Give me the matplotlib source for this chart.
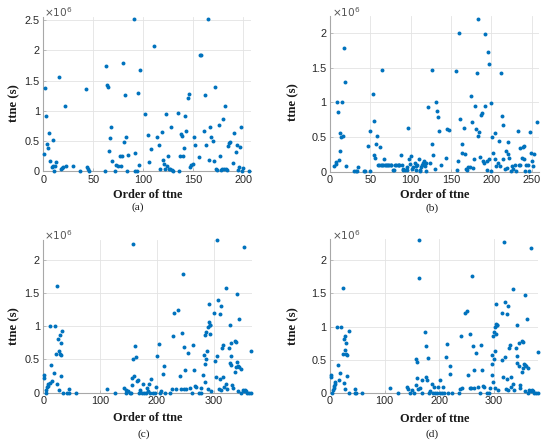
import matplotlib
matplotlib.use("Agg")
import matplotlib.pyplot as plt
from matplotlib.ticker import FuncFormatter

# ---- data (ttne values in units of 1e6 s) ----
a_pts = [(1,0.28),(2,1.38),(3,0.91),(4,0.455),(5,0.39),(6,0.64),(7,0.175),(9,0.07),(10,0.09),(10,0.51),
         (11,0.01),(12,0.09),(13,0.16),(16,1.56),(18,0.04),(19,0.06),(20,0.07),(22,1.08),(23,0.09),(30,0.08),
         (37,0.01),(43,1.36),(44,0.065),(45,0.04),(46,0.01),(62,0.01),(63,1.74),(64,1.42),(65,1.39),(66,0.33),
         (67,0.55),(68,0.73),(69,0.165),(72,0.01),(73,0.11),(75,0.09),(77,0.26),(78,0.09),(79,0.25),(80,1.79),
         (81,0.48),(82,1.26),(83,0.57),(84,0.01),(85,0.27),(91,2.52),(92,0.01),(92,0.3),(94,0.01),(95,1.3),
         (96,0.1),(97,1.68),(102,0.94),(105,0.6),(106,0.15),(108,0.37),(111,2.08),(114,0.56),(116,0.43),(117,0.03),
         (119,0.65),(120,0.18),(121,0.115),(122,0.04),(123,0.94),(124,0.08),(125,0.25),(126,0.03),(127,0.04),(128,0.73),
         (129,0.015),(130,0.005),(135,0.97),(136,0.01),(137,0.26),(138,0.62),(139,0.59),(140,0.26),(141,0.39),(142,0.92),
         (143,0.67),(145,1.21),(146,1.28),(147,0.07),(148,0.11),(150,0.125),(151,0.575),(152,0.43),(156,0.235),(157,1.92),
         (158,1.92),(161,0.66),(162,1.27),(163,0.44),(165,2.52),(166,0.185),(167,0.73),(168,0.565),(170,0.5),(171,0.17),
         (172,1.39),(173,0.04),(174,0.015),(176,0.77),(177,0.245),(178,0.015),(179,0.04),(180,0.86),(181,0.04),(182,1.08),
         (183,0.03),(184,0.015),(185,0.42),(186,0.465),(187,0.48),(190,0.135),(191,0.63),(193,0.32),(194,0.43),(195,0.015),
         (196,0.07),(197,0.4),(198,0.73),(199,0.01),(200,0.055),(206,0.005)]

b_pts = [(5,0.08),(7,0.11),(8,0.14),(9,1.0),(10,0.86),(11,0.16),(12,0.56),(13,0.29),(14,0.5),(15,1.0),
         (16,0.51),(17,1.79),(18,1.3),(20,0.085),(30,0.01),(32,0.01),(34,0.01),(35,0.07),(42,0.01),(43,0.01),
         (47,0.375),(49,0.01),(49,0.59),(53,1.12),(54,0.245),(55,0.73),(56,0.2),(57,0.4),(58,0.52),(60,0.1),
         (61,0.1),(62,0.355),(63,0.1),(64,1.47),(65,0.1),(66,0.1),(67,0.18),(68,0.1),(70,0.1),(71,0.095),
         (72,0.1),(73,0.1),(75,0.095),(76,0.1),(78,0.015),(79,0.015),(80,0.1),(82,0.1),(84,0.095),(85,0.1),
         (86,0.1),(88,0.235),(89,0.1),(90,0.035),(91,0.02),(93,0.02),(95,0.07),(96,0.02),(97,0.625),(98,0.18),
         (99,0.115),(100,0.23),(101,0.035),(103,0.06),(105,0.12),(106,0.077),(107,0.02),(108,0.09),(110,0.18),(111,0.01),
         (112,0.02),(113,0.06),(114,0.1),(115,0.13),(117,0.15),(118,0.085),(119,0.01),(119,0.12),(122,0.93),(124,0.12),
         (126,0.4),(127,1.46),(128,0.245),(130,0.035),(131,1.0),(133,0.875),(134,0.79),(135,0.58),(137,0.09),(144,0.2),
         (145,0.615),(147,0.6),(156,1.45),(157,0.02),(159,0.15),(160,2.0),(161,0.755),(163,0.27),(164,0.4),(166,0.635),
         (167,0.26),(168,0.035),(170,0.02),(171,0.058),(173,0.067),(175,1.09),(176,0.715),(177,0.053),(178,0.18),(180,0.94),
         (181,0.61),(182,1.43),(183,0.52),(184,2.21),(185,0.57),(186,0.207),(187,0.82),(188,0.84),(190,0.155),(191,0.12),
         (192,0.95),(192,1.98),(194,0.025),(194,0.145),(196,1.73),(197,1.56),(197,0.18),(199,0.01),(200,0.985),(201,0.495),
         (202,0.265),(204,0.56),(204,0.18),(206,0.085),(208,0.12),(209,0.44),(211,0.08),(212,1.43),(213,0.8),(215,0.67),
         (215,0.18),(217,0.03),(218,0.3),(219,0.05),(220,0.26),(221,0.43),(222,0.2),(224,0.01),(225,0.08),(227,0.03),
         (229,0.095),(230,0.01),(233,0.59),(234,0.087),(235,0.34),(236,0.1),(238,0.19),(239,0.36),(240,0.375),(241,0.18),
         (242,0.01),(243,0.1),(245,0.1),(246,0.01),(248,0.57),(249,0.27),(250,0.15),(251,0.08),(253,0.25),(257,0.71)]

c_pts = [(1,0.225),(2,0.265),(4,0.0),(5,0.04),(7,0.08),(8,0.105),(9,0.125),(11,0.15),(12,1.0),(13,0.41),
         (16,0.18),(18,0.29),(21,1.0),(23,0.58),(25,1.6),(25,0.13),(26,0.8),(27,0.04),(28,0.63),(29,0.86),
         (30,0.58),(31,0.74),(31,0.25),(32,0.56),(33,0.93),(34,0.0),(42,0.0),(45,0.05),(46,0.0),(58,0.0),
         (112,0.055),(126,0.0),(142,0.07),(145,0.04),(146,0.0),(149,0.03),(152,0.0),(154,0.0),(156,0.115),(157,0.22),
         (158,0.5),(158,2.23),(159,0.245),(161,0.7),(163,0.53),(165,0.175),(167,0.19),(169,0.0),(170,0.045),(174,0.0),
         (176,0.125),(178,0.0),(180,0.0),(183,0.07),(184,0.02),(186,0.135),(188,0.0),(190,0.21),(193,0.0),(197,0.0),
         (199,0.085),(201,0.55),(203,0.73),(206,0.0),(208,0.03),(211,0.28),(212,0.4),(214,0.0),(224,0.0),(226,0.055),
         (228,0.855),(231,1.2),(233,0.06),(238,1.24),(241,0.255),(243,0.05),(244,0.895),(246,1.78),(247,0.055),(248,0.69),
         (250,0.335),(252,0.055),(254,0.6),(258,0.075),(261,0.0),(263,0.71),(265,0.335),(267,0.1),(269,0.08),(274,0.0),
         (277,0.0),(278,0.07),(282,0.26),(283,0.56),(284,0.155),(285,0.43),(285,0.86),(287,0.905),(287,0.5),(288,0.62),
         (290,0.06),(290,0.985),(291,1.06),(292,1.34),(293,0.885),(293,1.02),(294,1.025),(295,0.025),(301,1.2),(302,0.48),
         (304,0.23),(306,2.29),(306,0.545),(308,1.39),(310,0.05),(311,0.2),(312,1.19),(313,1.31),(313,0.04),(315,0.67),
         (317,0.71),(317,0.24),(319,0.09),(321,1.57),(322,0.13),(323,0.05),(327,0.67),(328,0.45),(329,1.025),(330,0.55),
         (331,0.745),(331,0.42),(333,0.115),(334,0.065),(337,0.315),(337,0.78),(339,0.38),(339,0.765),(341,0.455),(341,1.48),
         (342,0.405),(343,0.02),(344,0.38),(345,1.11),(348,0.35),(349,0.0),(351,0.04),(353,0.02),(354,2.19),(355,0.04),
         (357,0.02),(359,0.0),(362,0.0),(365,0.62),(366,0.0)]

d_pts = [(1,0.235),(2,0.27),(4,0.0),(6,0.04),(7,0.08),(8,0.11),(9,0.14),(10,0.165),(12,1.0),(14,0.415),
         (17,0.19),(19,0.295),(21,1.0),(23,0.58),(24,1.59),(25,0.145),(26,0.81),(27,0.64),(28,0.86),(27,0.055),
         (29,0.58),(30,0.75),(31,0.26),(32,0.57),(34,0.93),(35,0.0),(45,0.0),(46,0.055),(47,0.0),(58,0.0),
         (111,0.065),(125,0.0),(142,0.085),(144,0.05),(147,0.0),(151,0.035),(155,0.0),(158,0.125),(158,0.51),(159,0.225),
         (160,0.46),(162,0.06),(163,1.74),(164,2.31),(166,0.075),(168,0.0),(169,0.2),(174,0.925),(176,0.7),(177,0.24),
         (178,0.195),(179,0.53),(182,0.0),(184,0.02),(187,0.13),(189,0.0),(191,0.09),(193,0.0),(196,0.0),(198,0.09),
         (201,0.0),(202,0.2),(205,0.0),(208,0.085),(210,0.0),(213,0.545),(214,0.735),(216,0.0),(220,0.28),(221,0.4),
         (223,0.0),(236,0.0),(239,0.055),(241,0.86),(243,0.08),(247,1.2),(251,1.24),(254,0.265),(256,0.065),(257,0.89),
         (259,0.075),(261,1.77),(262,0.7),(264,0.345),(265,0.07),(268,0.6),(272,0.095),(275,0.0),(277,0.72),(279,0.345),
         (281,0.11),(283,0.09),(288,0.0),(291,0.0),(294,0.08),(297,0.265),(297,0.57),(298,0.44),(299,0.16),(299,0.86),
         (300,0.51),(301,0.915),(302,0.63),(303,0.075),(303,0.99),(304,1.045),(305,1.34),(305,0.89),(306,1.02),(306,1.03),
         (308,0.04),(315,1.205),(316,0.49),(317,0.235),(319,2.28),(321,0.545),(322,1.375),(323,0.06),(324,0.21),(325,1.195),
         (326,1.305),(327,0.04),(328,0.675),(330,0.72),(332,0.245),(333,0.085),(335,1.57),(336,0.13),(338,0.04),(341,0.675),
         (343,0.455),(344,1.03),(344,0.55),(346,0.75),(346,0.4),(348,0.12),(349,0.07),(352,0.315),(352,0.785),(354,0.38),
         (355,0.77),(356,0.44),(357,1.48),(358,0.42),(358,0.02),(360,0.4),(361,1.11),(363,0.38),(364,0.0),(366,0.04),
         (368,0.02),(369,2.18),(371,0.04),(372,0.02),(375,0.0),(378,0.0),(381,0.62),(382,0.0)]

panel_labels = ["(a)", "(b)", "(c)", "(d)"]
x_label = "Order of ttne"
y_label = "ttne (s)"
a_xticks = [0, 50, 100, 150, 200]
b_xticks = [0, 50, 100, 150, 200, 250]
cd_xticks = [0, 100, 200, 300]
a_yticks = [0, 0.5, 1, 1.5, 2, 2.5]
bcd_yticks = [0, 0.5, 1, 1.5, 2]

# ---- styling ----
W, H = 550, 446
BLUE = "#0072BD"
fig = plt.figure(figsize=(W / 100, H / 100), dpi=100)
fig.patch.set_facecolor("white")


def add_ax(l, r, t, b):
    return fig.add_axes([l / W, 1 - b / H, (r - l) / W, (b - t) / H])


panels = [
    (a_pts, (43.3, 251.3, 17.2, 171.3), 208, 2.55, a_xticks, a_yticks),
    (b_pts, (330.0, 539.0, 15.8, 171.5), 259, 2.25, b_xticks, bcd_yticks),
    (c_pts, (43.3, 251.7, 239.8, 392.6), 367, 2.30, cd_xticks, bcd_yticks),
    (d_pts, (330.0, 538.2, 239.2, 392.8), 382, 2.32, cd_xticks, bcd_yticks),
]

tick_font = dict(family="Liberation Sans", size=7.8)
for pts, (l, r, t, b), xmax, ymax, xt, yt in panels:
    ax = add_ax(l, r, t, b)
    xs = [p[0] for p in pts]
    ys = [p[1] * 1e6 for p in pts]
    ax.scatter(xs, ys, s=8, color=BLUE, linewidths=0, clip_on=False, zorder=3)
    ax.set_xlim(0, xmax)
    ax.set_ylim(0, ymax * 1e6)
    ax.set_xticks(xt)
    ax.set_yticks([v * 1e6 for v in yt])
    ax.yaxis.set_major_formatter(FuncFormatter(lambda v, p: "%g" % (v / 1e6)))
    ax.grid(True, color="#e3e3e3", linewidth=0.6, zorder=0)
    ax.set_axisbelow(True)
    for s in ("top", "right"):
        ax.spines[s].set_visible(False)
    for s in ("left", "bottom"):
        ax.spines[s].set_color("#a8a8a8")
        ax.spines[s].set_linewidth(0.8)
    ax.tick_params(direction="in", length=2, width=0.5, color="#a8a8a8",
                   labelcolor="#262626", pad=2.5)
    for lab in ax.get_xticklabels() + ax.get_yticklabels():
        lab.set_fontfamily(tick_font["family"])
        lab.set_fontsize(tick_font["size"])

xlabel_font = dict(family="Liberation Serif", weight="bold", size=8.8, color="#1a1a1a")
ylabel_font = dict(family="Liberation Serif", weight="bold", size=9.2, color="#1a1a1a")
panel_font = dict(family="Liberation Serif", size=8.2, color="#1a1a1a")

# x labels
for cx, cy in [(147.7, 195.5), (434.7, 195.5), (147.7, 418.0), (434.7, 418.5)]:
    fig.text(cx / W, 1 - cy / H, x_label, ha="center", va="center", **xlabel_font)
# y labels
for cx, cy in [(14, 103), (293.3, 101.7), (14, 326), (293.3, 326)]:
    fig.text(cx / W, 1 - cy / H, y_label, ha="center", va="center", rotation=90, **ylabel_font)
# panel labels
for lab, (cx, cy) in zip(panel_labels, [(137.5, 207.5), (431.7, 208.0), (143.3, 434.0), (431.7, 434.0)]):
    fig.text(cx / W, 1 - cy / H, lab, ha="center", va="center", **panel_font)
# exponent texts
for cx, cy in [(44.5, 12.5), (331.5, 12.5), (44.5, 235.5), (331.5, 235.5)]:
    fig.text(cx / W, 1 - cy / H, r"$\times10^{6}$", ha="left", va="center",
             fontsize=7.6, color="#555555", family="Liberation Sans")

fig.savefig("out.png", dpi=100, facecolor="white")
